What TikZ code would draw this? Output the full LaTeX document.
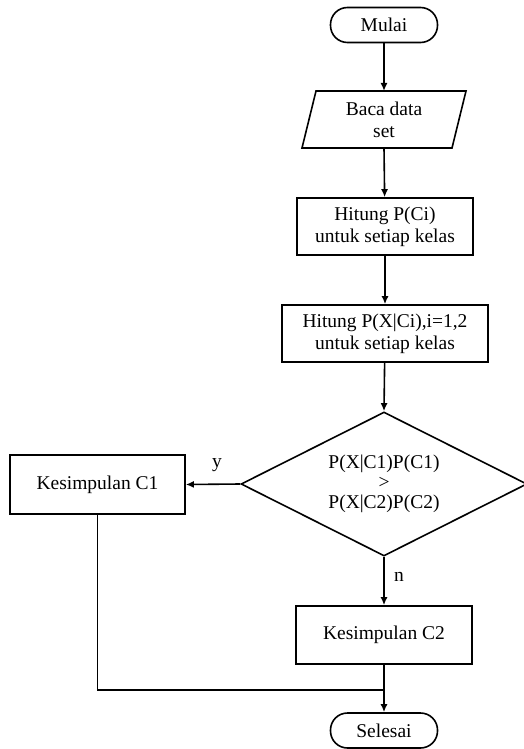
\documentclass[tikz,border=0pt]{standalone}
\usepackage{fontspec}
\setmainfont{Liberation Serif}
\usetikzlibrary{shapes.geometric,arrows.meta}
\begin{document}
\begin{tikzpicture}[x=1pt,y=-1pt,
  every node/.style={font=\fontsize{19.5}{22}\selectfont},
  line/.style={line width=1.6pt},
  arr/.style={line width=1.6pt,-{Latex[length=8pt,width=7pt]}},
  term/.style={draw,line width=1.6pt,rounded corners=17pt,minimum width=107pt,minimum height=35pt,inner sep=0pt},
  proc/.style={draw,line width=1.6pt,align=center,inner sep=0pt},
  lab/.style={font=\fontsize{19.5}{22}\selectfont}]
\useasboundingbox (0,0) rectangle (524,749);
\node[term] (mulai) at (384,25) {Mulai};
% parallelogram
\node[align=center,minimum width=150pt,minimum height=57pt,inner sep=0pt] (baca) at (384,119.5) {Baca data\\set};
\draw[line] (316,91) -- (466,91) -- (452,148) -- (302,148) -- cycle;
\node[proc,minimum width=176pt,minimum height=57pt] (pci) at (385,226.5) {Hitung P(Ci)\\untuk setiap kelas};
\node[proc,minimum width=206pt,minimum height=57pt] (pxci) at (385,333.5) {Hitung P(X|Ci),i=1,2\\untuk setiap kelas};
\node[draw,line width=1.6pt,diamond,aspect=1.99,minimum width=286pt,minimum height=144pt,inner sep=0pt,align=center,font=\fontsize{19.5}{20}\selectfont] (dec) at (384,484) {P(X|C1)P(C1)\\>\\P(X|C2)P(C2)};
\node[proc,minimum width=175pt,minimum height=59pt] (c1) at (97.5,484.5) {Kesimpulan C1};
\node[proc,minimum width=176pt,minimum height=58pt] (c2) at (384,635) {Kesimpulan C2};
\node[term] (selesai) at (384,730.5) {Selesai};
\coordinate (j) at (384,690);
\draw[arr] (mulai) -- (384,91);
\draw[arr] (384,148) -- (pci);
\draw[arr] (pci) -- (pxci);
\draw[arr] (pxci) -- (dec.north);
\draw[arr] (dec.west) -- (c1.east);
\draw[arr] (dec.south) -- (c2.north);
\draw[line] (c1.south) |- (j);
\draw[arr] (c2.south) -- (selesai.north);
\node[lab] (ly) at (217,465) {y};
\node[lab] (ln) at (399,577) {n};
\end{tikzpicture}
\end{document}
